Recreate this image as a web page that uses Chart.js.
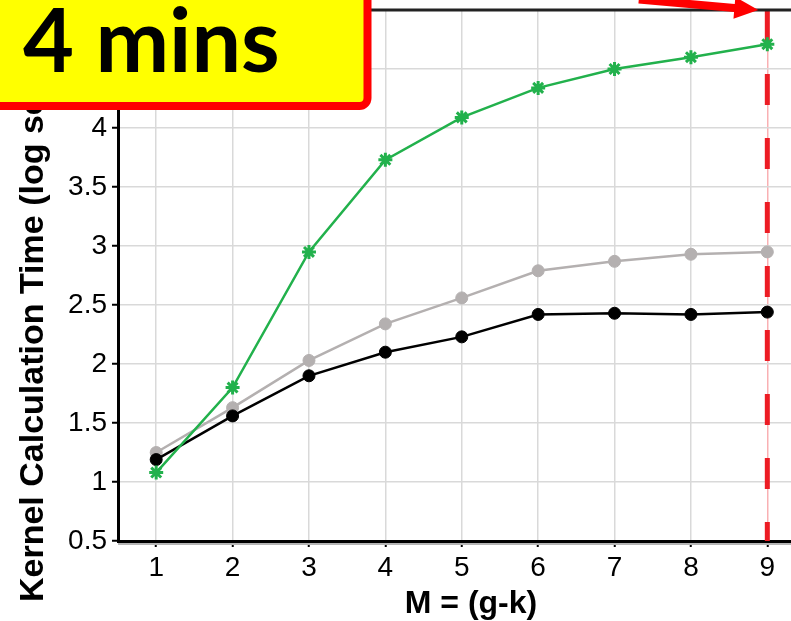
<!DOCTYPE html>
<html>
<head>
<meta charset="utf-8">
<title>Kernel Calculation Time</title>
<script src="https://cdn.jsdelivr.net/npm/chart.js@4.4.1/dist/chart.umd.min.js"></script>
<style>
  html, body { margin: 0; padding: 0; background: #fff; overflow: hidden; }
  canvas { display: block; }
</style>
</head>
<body>
<canvas id="myChart" width="791" height="621"></canvas>
<script>
// values
const mValues = [1, 2, 3, 4, 5, 6, 7, 8, 9];
const greenTimes = [1.08, 1.80, 2.95, 3.73, 4.09, 4.34, 4.50, 4.60, 4.71];
const blackTimes = [1.19, 1.56, 1.90, 2.10, 2.23, 2.42, 2.43, 2.42, 2.44];
const grayTimes = [1.25, 1.63, 2.03, 2.34, 2.56, 2.79, 2.87, 2.93, 2.95];
const yTicks = [0.5, 1, 1.5, 2, 2.5, 3, 3.5, 4, 4.5, 5];
const xTicks = [1, 2, 3, 4, 5, 6, 7, 8, 9];
const markedM = 9;
const badgeText = "4 mins";
const xTitle = "M = (g-k)";
const yTitle = "Kernel Calculation Time (log sec)";

const FONT = "'Liberation Sans', Arial, sans-serif";
const RED = "#ed1c24";

function toPoints(ys) {
  return mValues.map((m, i) => ({ x: m, y: ys[i] }));
}

// red dashed marker, axis titles, badge and arrow
const overlay = {
  id: "overlay",
  beforeDatasetsDraw(chart) {
    const { ctx, chartArea, scales } = chart;
    const xm = scales.x.getPixelForValue(markedM);
    ctx.save();
    ctx.strokeStyle = RED;
    ctx.lineWidth = 5;
    ctx.setLineDash([31, 33]);
    ctx.beginPath();
    ctx.moveTo(xm, chartArea.top);
    ctx.lineTo(xm, chartArea.bottom);
    ctx.stroke();
    ctx.restore();
  },
  afterDraw(chart) {
    const { ctx, chartArea, scales } = chart;
    const xm = scales.x.getPixelForValue(markedM);
    ctx.save();

    // shadow under x axis and dark top rule
    ctx.strokeStyle = "#b5b5b5";
    ctx.lineWidth = 2;
    ctx.beginPath();
    ctx.moveTo(chartArea.left, chartArea.bottom + 3);
    ctx.lineTo(chartArea.right, chartArea.bottom + 3);
    ctx.stroke();
    ctx.strokeStyle = "#222";
    ctx.lineWidth = 3;
    ctx.beginPath();
    ctx.moveTo(0, chartArea.top);
    ctx.lineTo(chartArea.right, chartArea.top);
    ctx.stroke();

    // axis titles
    ctx.fillStyle = "#000";
    ctx.font = "bold 32px " + FONT;
    ctx.textAlign = "center";
    ctx.textBaseline = "alphabetic";
    ctx.fillText(xTitle, 471, 613);
    ctx.save();
    ctx.translate(43, 602);
    ctx.rotate(-Math.PI / 2);
    ctx.font = "bold 34px " + FONT;
    ctx.textAlign = "left";
    ctx.fillText(yTitle, 0, 0);
    ctx.restore();

    // yellow badge
    ctx.beginPath();
    ctx.roundRect(-20, -20, 387.5, 126, 8);
    ctx.fillStyle = "#ffff00";
    ctx.fill();
    ctx.lineWidth = 8;
    ctx.strokeStyle = "#ff0000";
    ctx.stroke();
    ctx.fillStyle = "#000";
    ctx.font = "bold 88px Lato, 'Open Sans', sans-serif";
    ctx.textAlign = "left";
    ctx.fillText(badgeText, 23, 72);

    // arrow pointing at the top of the marker
    ctx.translate(xm - 9, chartArea.top);
    ctx.rotate(5 * Math.PI / 180);
    ctx.beginPath();
    ctx.moveTo(-120, -4);
    ctx.lineTo(-24, -4);
    ctx.lineTo(-24, -11);
    ctx.lineTo(0, 0);
    ctx.lineTo(-24, 11);
    ctx.lineTo(-24, 4);
    ctx.lineTo(-120, 4);
    ctx.closePath();
    ctx.fillStyle = "#ff0000";
    ctx.fill();
    ctx.restore();
  }
};

const ctx = document.getElementById("myChart").getContext("2d");
new Chart(ctx, {
  type: "line",
  data: {
    datasets: [
      {
        label: "green",
        data: toPoints(greenTimes),
        borderColor: "#22b14c",
        borderWidth: 2.5,
        pointStyle: "star",
        pointRadius: 7,
        pointBorderWidth: 3,
        pointBorderColor: "#22b14c",
        pointBackgroundColor: "#22b14c"
      },
      {
        label: "black",
        data: toPoints(blackTimes),
        borderColor: "#000",
        borderWidth: 2.5,
        pointRadius: 6,
        pointBorderWidth: 1,
        pointBorderColor: "#000",
        pointBackgroundColor: "#000"
      },
      {
        label: "gray",
        data: toPoints(grayTimes),
        borderColor: "#b4b0b0",
        borderWidth: 2.5,
        pointRadius: 6,
        pointBorderWidth: 1,
        pointBorderColor: "#b4b0b0",
        pointBackgroundColor: "#b4b0b0"
      }
    ]
  },
  options: {
    responsive: false,
    animation: false,
    devicePixelRatio: 1,
    layout: { autoPadding: false, padding: { top: 10, left: 0, right: 0, bottom: 0 } },
    plugins: {
      legend: { display: false },
      tooltip: { enabled: false }
    },
    scales: {
      x: {
        type: "linear",
        min: 0.5,
        max: 9.31,
        afterBuildTicks: s => { s.ticks = xTicks.map(v => ({ value: v })); },
        afterFit: s => { s.height = 80; s.paddingLeft = 0; s.paddingRight = 0; },
        border: { color: "#000", width: 3 },
        grid: {
          color: c => (c.tick && c.tick.value === markedM ? "rgba(237,28,36,0.35)" : "#d9d9d9"),
          lineWidth: 1.5,
          tickColor: "#000",
          tickLength: 6,
          tickWidth: 2
        },
        ticks: {
          color: "#000",
          padding: 4,
          font: { family: FONT, size: 28 },
          callback: v => String(v)
        }
      },
      y: {
        min: 0.5,
        max: 5,
        afterBuildTicks: s => { s.ticks = yTicks.map(v => ({ value: v })); },
        afterFit: s => { s.width = 118; s.paddingTop = 0; s.paddingBottom = 0; },
        border: { color: "#000", width: 3 },
        grid: {
          color: "#d9d9d9",
          lineWidth: 1.5,
          tickColor: "#000",
          tickLength: 6,
          tickWidth: 2
        },
        ticks: {
          color: "#000",
          padding: 5,
          font: { family: FONT, size: 28 },
          callback: v => String(v)
        }
      }
    }
  },
  plugins: [overlay]
});
</script>
</body>
</html>
